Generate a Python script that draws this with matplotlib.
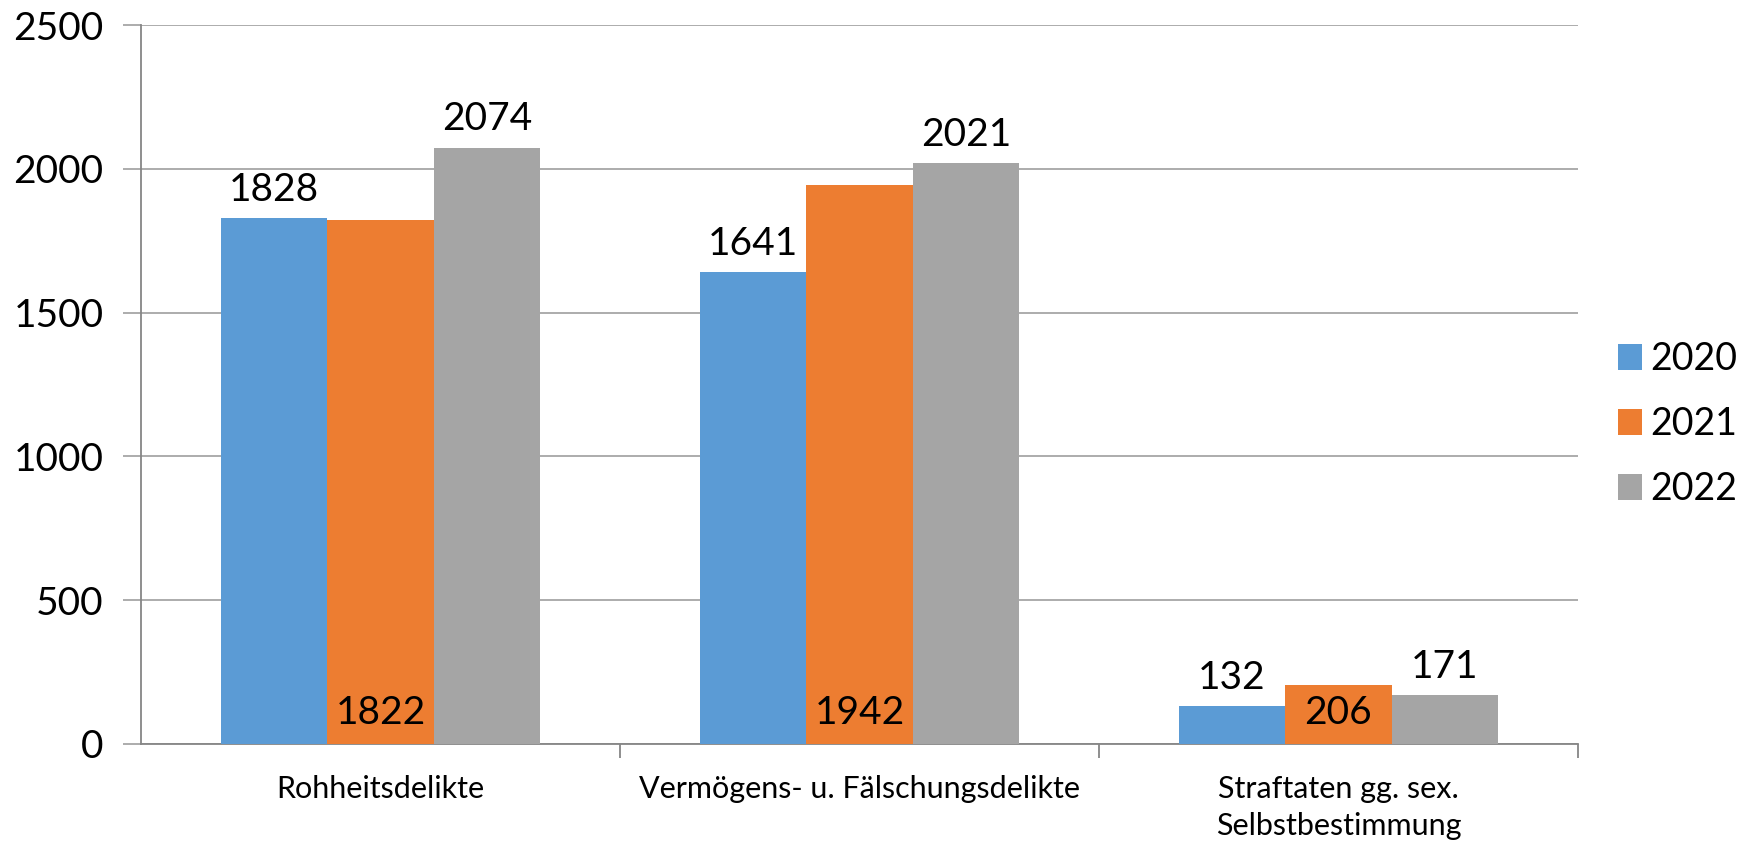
import matplotlib.pyplot as plt
import numpy as np

categories = ["Rohheitsdelikte", "Vermögens- u. Fälschungsdelikte",
              "Straftaten gg. sex.\nSelbstbestimmung"]
years = ["2020", "2021", "2022"]
v2020 = [1828, 1641, 132]
v2021 = [1822, 1942, 206]
v2022 = [2074, 2021, 171]
colors = ["#5B9BD5", "#ED7D31", "#A5A5A5"]

plt.rcParams['font.family'] = ['Lato', 'DejaVu Sans']

fig = plt.figure(figsize=(17.49, 8.41), dpi=100)
ax = fig.add_axes([141 / 1749, 1 - 744 / 841, (1578 - 141) / 1749, (744 - 25) / 841])

x = np.arange(len(categories))
w = 0.2222
series = [v2020, v2021, v2022]
for i, (vals, c, yr) in enumerate(zip(series, colors, years)):
    ax.bar(x + (i - 1) * w, vals, w, color=c, label=yr, zorder=3)

# labels: 2020 and 2022 above the bar, 2021 inside at the base
for i, vals in enumerate(series):
    for xi, v in zip(x, vals):
        if i == 1:
            ax.text(xi, 45, str(v), ha="center", va="bottom", fontsize=28, zorder=4)
        else:
            ax.text(xi + (i - 1) * w, v + 35, str(v), ha="center", va="bottom",
                    fontsize=28, zorder=4)

ax.set_xlim(-0.5, 2.5)
ax.set_ylim(0, 2500)
ax.set_yticks(range(0, 2501, 500))
ax.yaxis.grid(True, color="#A6A6A6", linewidth=1.3, zorder=0)
ax.tick_params(axis="y", labelsize=28, length=13, width=1.3, color="#A6A6A6", pad=14)

ax.set_xticks(x)
ax.set_xticklabels(categories, fontsize=22, linespacing=1.4)
ax.set_xticks([0.5, 1.5, 2.5], minor=True)
ax.tick_params(axis="x", which="major", length=0, pad=22)
ax.tick_params(axis="x", which="minor", length=10, width=1.3, color="#868686")

for s in ["top", "right"]:
    ax.spines[s].set_visible(False)
ax.spines["left"].set_color("#868686")
ax.spines["bottom"].set_color("#868686")
ax.spines["left"].set_linewidth(1.3)
ax.spines["bottom"].set_linewidth(1.3)

leg = ax.legend(loc="center left", frameon=False,
                fontsize=27, handlelength=0.65, handleheight=0.7, handletextpad=0.2,
                labelspacing=0.78, borderpad=0, borderaxespad=0)
leg.set_bbox_to_anchor((1618 / 1749, 1 - 424 / 841), transform=fig.transFigure)

fig.savefig("out.png", dpi=100)
